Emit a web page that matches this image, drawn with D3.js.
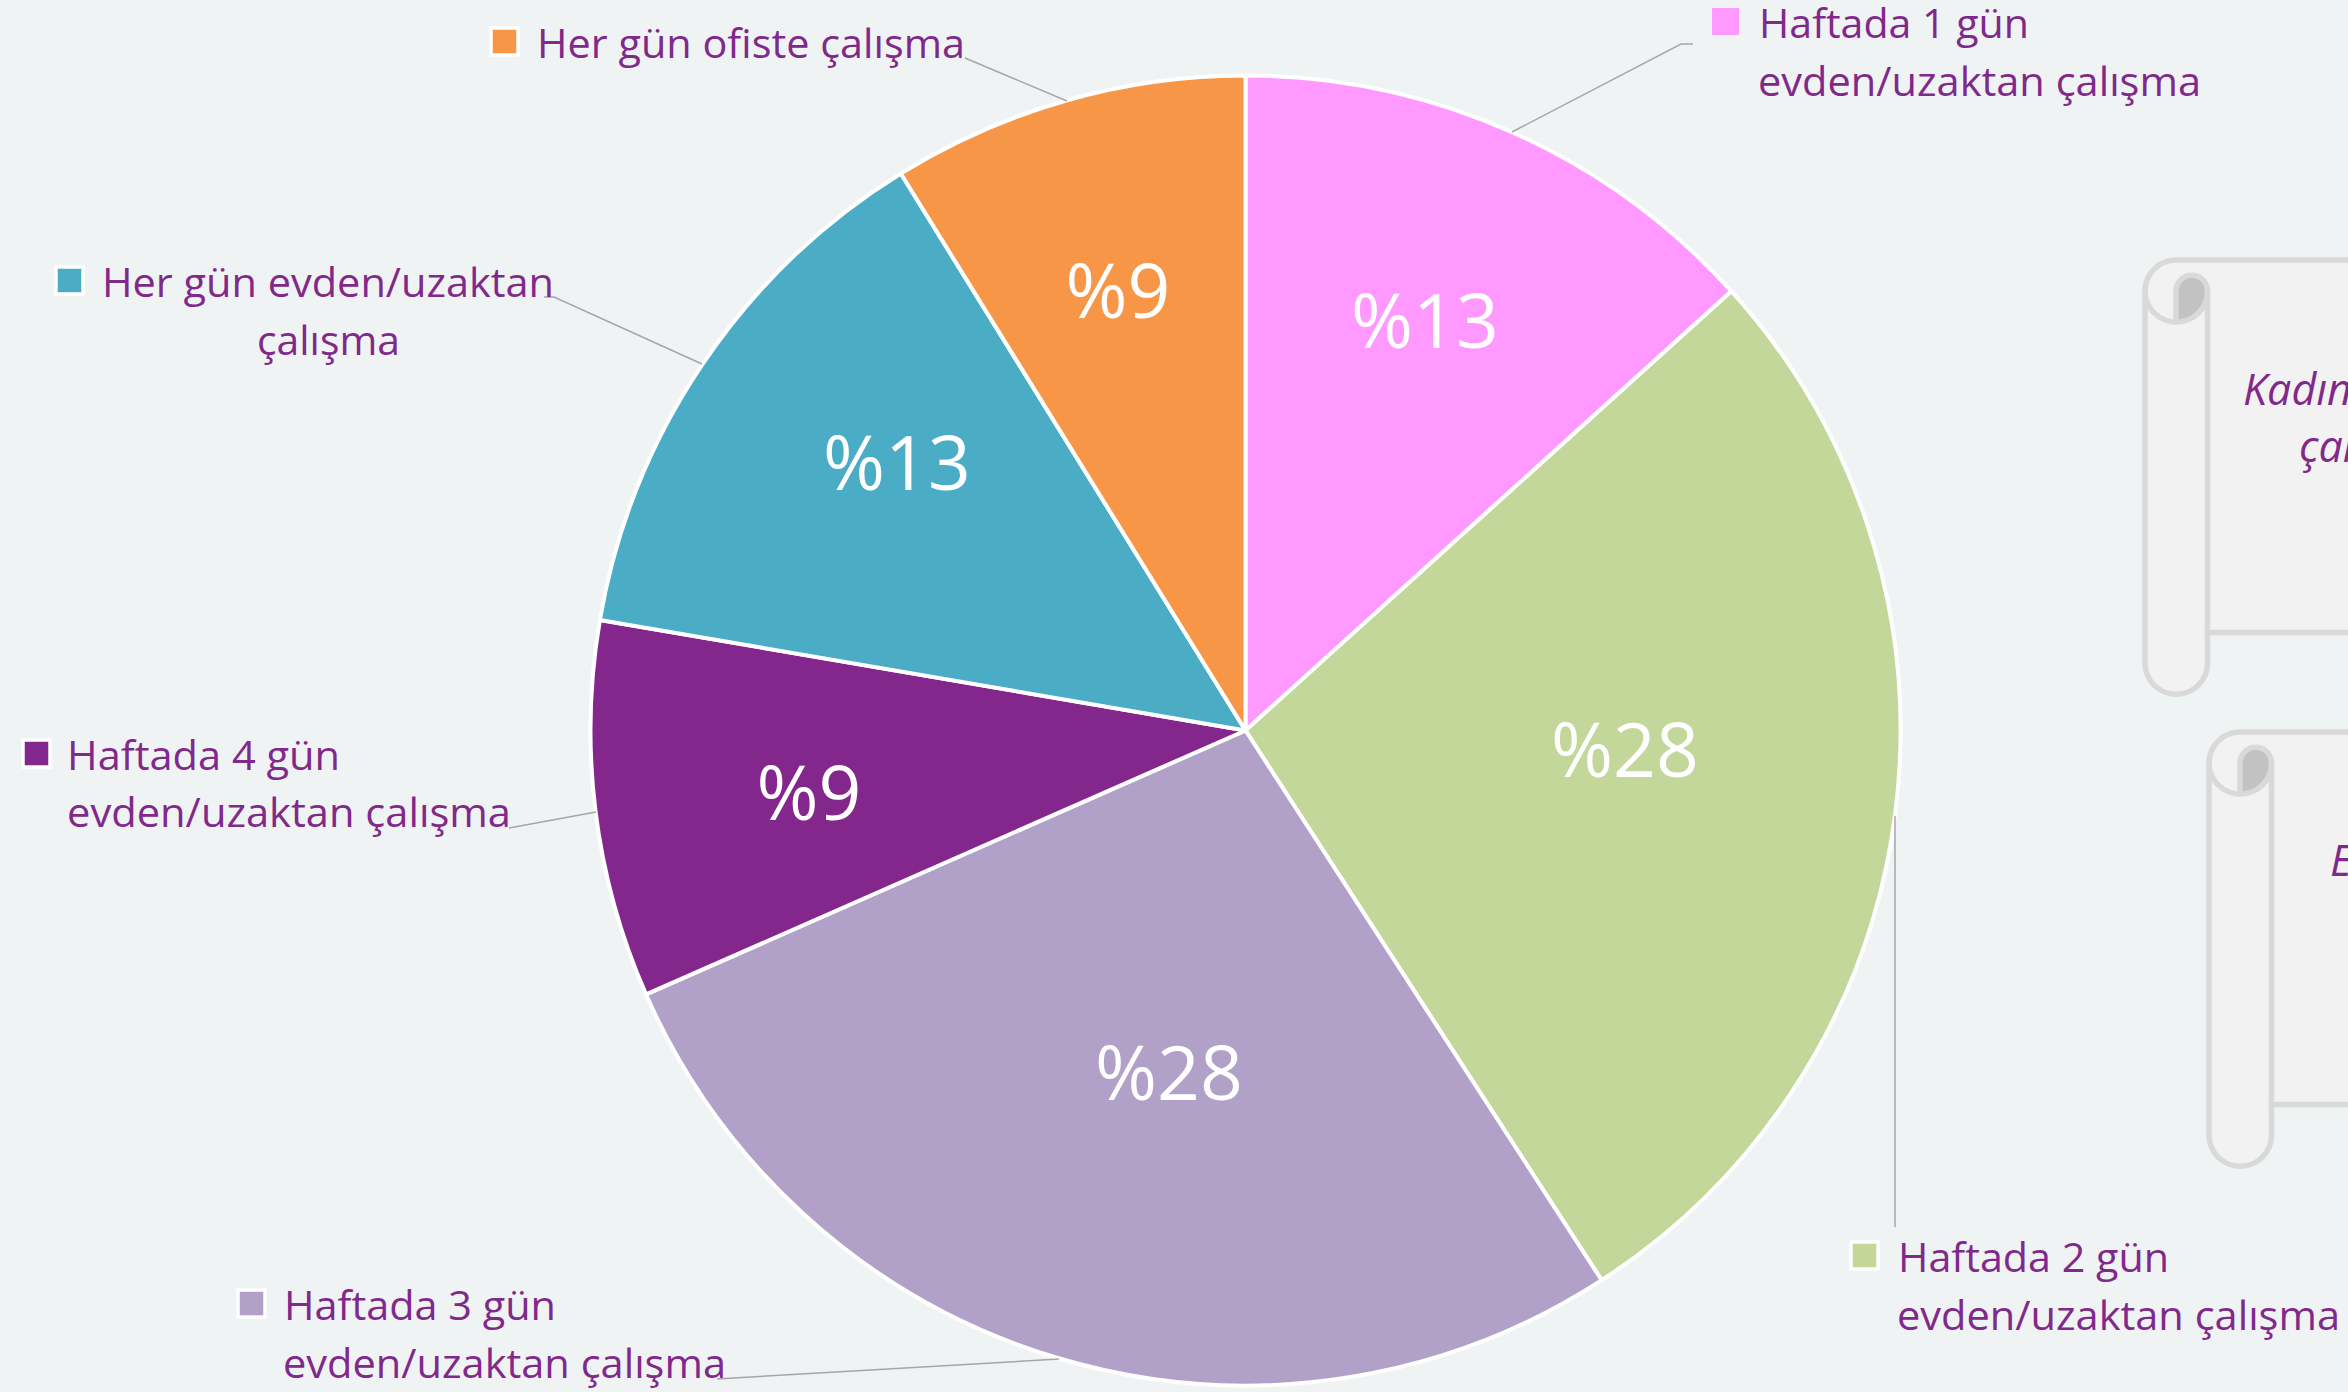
<!DOCTYPE html>
<html>
<head>
<meta charset="utf-8">
<script src="https://cdn.jsdelivr.net/npm/d3@7"></script>
<style>
    html, body { margin: 0; padding: 0; background: #eff3f4; overflow: hidden; }
    svg { display: block; }
    text { font-family: "Open Sans", sans-serif; }
</style>
</head>
<body>
<div class="pieChart"></div>
<script>
// values, the printed labels are the rounded ones
const categories = [
    "Haftada 1 gün evden/uzaktan çalışma",
    "Haftada 2 gün evden/uzaktan çalışma",
    "Haftada 3 gün evden/uzaktan çalışma",
    "Haftada 4 gün evden/uzaktan çalışma",
    "Her gün evden/uzaktan çalışma",
    "Her gün ofiste çalışma"
];
const shares = [13.3, 27.55, 27.55, 9.3, 13.48, 8.82];
const colors = ["#ff99ff", "#c4d79b", "#b1a0c7", "#83278d", "#4bacc6", "#f79646"];

const width = 2348, height = 1392;
const cx = 1245.5, cy = 730.5, radius = 655;
const textColor = "#81298b";

// manual layout, same order as categories
const pctPos = [[1425, 321], [1625, 750], [1169, 1073], [809, 793], [897, 463], [1118, 291]];
const swatches = [
    {x: 1712, y: 8, border: false},
    {x: 1851, y: 1242, border: true},
    {x: 238, y: 1290, border: true},
    {x: 23, y: 740, border: true},
    {x: 56, y: 267, border: true},
    {x: 491, y: 28, border: true}
];
const labelLines = [
    [{t: "Haftada 1 gün", x: 1759, y: 38, w: 270}, {t: "evden/uzaktan çalışma", x: 1758, y: 96, w: 443}],
    [{t: "Haftada 2 gün", x: 1898, y: 1272, w: 271}, {t: "evden/uzaktan çalışma", x: 1897, y: 1330, w: 443}],
    [{t: "Haftada 3 gün", x: 284, y: 1320, w: 272}, {t: "evden/uzaktan çalışma", x: 283, y: 1378, w: 443}],
    [{t: "Haftada 4 gün", x: 67, y: 770, w: 273}, {t: "evden/uzaktan çalışma", x: 67, y: 827, w: 444}],
    [{t: "Her gün evden/uzaktan", x: 102, y: 297, w: 452}, {t: "çalışma", x: 257, y: 355, w: 143}],
    [{t: "Her gün ofiste çalışma", x: 537, y: 58, w: 428}]
];
const leaders = [
    [[1693, 44], [1681, 44], [1512, 132]],
    [[1895, 1227], [1895, 816]],
    [[717, 1379], [1059, 1359]],
    [[509, 828], [596, 812]],
    [[544, 297], [554, 297], [702, 364]],
    [[965, 58], [1067, 101]]
];
const scrolls = [
    {x: 2145, y: 260, lines: [{t: "Kadın", x: 2243, y: 405}, {t: "çal", x: 2299, y: 462}]},
    {x: 2209, y: 732, lines: [{t: "E", x: 2330, y: 876}]}
];

const svg = d3.select(".pieChart")
    .append("svg")
    .attr("width", width)
    .attr("height", height)
    .attr("viewBox", [0, 0, width, height]);

svg.append("rect")
    .attr("width", width)
    .attr("height", height)
    .attr("fill", "#eff3f4");

// scroll shapes cut by the right edge
const scroll = svg.append("g")
    .selectAll("g")
    .data(scrolls)
    .join("g")
    .attr("transform", d => `translate(${d.x},${d.y})`);

scroll.append("path")
    .attr("fill", "#f2f2f2")
    .attr("stroke", "#d9d9d9")
    .attr("stroke-width", 5.5)
    .attr("d", "M0,31 A31,31 0 0 1 31,0 H300 V372.5 H62.5 V403 A31,31 0 0 1 0,403 Z");
scroll.append("path")
    .attr("fill", "#c2c2c2")
    .attr("stroke", "#d9d9d9")
    .attr("stroke-width", 5.5)
    .attr("d", "M31,62 V31 A15.6,15.6 0 0 1 62.5,31 A31,31 0 0 1 31,62 Z");
scroll.append("path")
    .attr("fill", "none")
    .attr("stroke", "#d9d9d9")
    .attr("stroke-width", 5.5)
    .attr("d", "M0,31 A31,31 0 0 0 31,62 M62.5,31 V372.5");

svg.append("g")
    .selectAll("text")
    .data(scrolls.flatMap(d => d.lines))
    .join("text")
    .attr("x", d => d.x)
    .attr("y", d => d.y)
    .attr("fill", textColor)
    .attr("font-size", 43)
    .attr("font-style", "italic")
    .text(d => d.t);

// pie
const pie = d3.pie().sort(null).value(d => d)(shares);
const arc = d3.arc().innerRadius(0).outerRadius(radius);

svg.append("g")
    .attr("transform", `translate(${cx},${cy})`)
    .selectAll("path")
    .data(pie)
    .join("path")
    .attr("d", arc)
    .attr("fill", (d, i) => colors[i])
    .attr("stroke", "white")
    .attr("stroke-width", 4)
    .attr("stroke-linejoin", "round")
    .append("title")
    .text((d, i) => categories[i]);

svg.append("g")
    .selectAll("text")
    .data(shares)
    .join("text")
    .attr("x", (d, i) => pctPos[i][0])
    .attr("y", (d, i) => pctPos[i][1])
    .attr("dy", "0.36em")
    .attr("text-anchor", "middle")
    .attr("fill", "white")
    .attr("font-size", 75)
    .text(d => "%" + Math.round(d));

// leader lines
svg.append("g")
    .selectAll("path")
    .data(leaders)
    .join("path")
    .attr("d", d3.line())
    .attr("fill", "none")
    .attr("stroke", "#a6a6a6")
    .attr("stroke-width", 1.5);

// legend keys and category labels
svg.append("g")
    .selectAll("rect")
    .data(swatches)
    .join("rect")
    .attr("x", d => d.x)
    .attr("y", d => d.y)
    .attr("width", 27)
    .attr("height", 27)
    .attr("fill", (d, i) => colors[i])
    .attr("stroke", d => d.border ? "white" : "none")
    .attr("stroke-width", 3.5);

svg.append("g")
    .selectAll("text")
    .data(labelLines.flat())
    .join("text")
    .attr("x", d => d.x)
    .attr("y", d => d.y)
    .attr("fill", textColor)
    .attr("font-size", 41)
    .attr("textLength", d => d.w)
    .attr("lengthAdjust", "spacingAndGlyphs")
    .text(d => d.t);
</script>
</body>
</html>
